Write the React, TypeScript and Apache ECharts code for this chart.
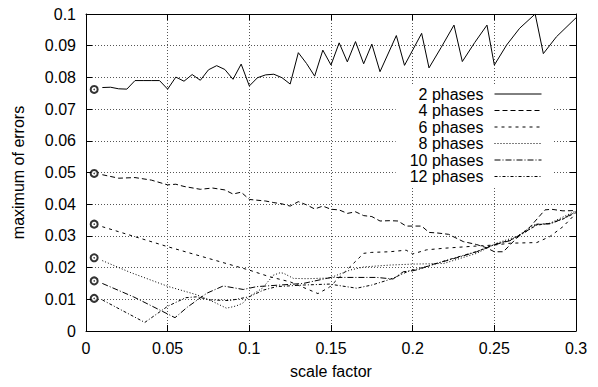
import React, { useEffect, useRef } from "react";
import * as echarts from "echarts";

const FONT = '"Liberation Sans", Arial, Helvetica, sans-serif';

const seriesNames = ["2 phases", "4 phases", "6 phases", "8 phases", "10 phases", "12 phases"];

const phases2 = [
  [0.01, 0.0768], [0.015, 0.0769], [0.02, 0.0764], [0.025, 0.0763], [0.03, 0.079], [0.035, 0.079],
  [0.04, 0.079], [0.045, 0.079], [0.05, 0.0763], [0.055, 0.0801], [0.06, 0.0788], [0.065, 0.0809],
  [0.07, 0.0791], [0.075, 0.0824], [0.08, 0.0837], [0.085, 0.0825], [0.09, 0.0794], [0.095, 0.0842],
  [0.1, 0.0773], [0.105, 0.0799], [0.11, 0.0808], [0.115, 0.081], [0.12, 0.0799], [0.125, 0.0779],
  [0.13, 0.0878], [0.135, 0.0844], [0.14, 0.0804], [0.145, 0.0886], [0.15, 0.0839], [0.155, 0.0909],
  [0.16, 0.0849], [0.165, 0.0913], [0.17, 0.0843], [0.175, 0.0905], [0.18, 0.0818], [0.19, 0.0932],
  [0.195, 0.0838], [0.2055, 0.0939], [0.21, 0.083], [0.2175, 0.0895], [0.2253, 0.0965], [0.2304, 0.085],
  [0.238, 0.091], [0.2455, 0.0965], [0.25, 0.0839], [0.2575, 0.0902], [0.2655, 0.0955], [0.275, 0.1],
  [0.28, 0.0875], [0.288, 0.0928], [0.3, 0.0988],
];

const phases4 = [
  [0.01, 0.0493], [0.02, 0.0482], [0.03, 0.0484], [0.04, 0.0476], [0.05, 0.0461], [0.055, 0.0463],
  [0.06, 0.0456], [0.07, 0.0447], [0.0775, 0.0451], [0.085, 0.0445], [0.09, 0.0432], [0.095, 0.0438],
  [0.1, 0.0415], [0.11, 0.041], [0.115, 0.0405], [0.12, 0.0401], [0.125, 0.0394], [0.13, 0.0408],
  [0.135, 0.0398], [0.14, 0.0385], [0.145, 0.0394], [0.15, 0.0384], [0.155, 0.0382], [0.16, 0.0371],
  [0.165, 0.0376], [0.17, 0.0364], [0.175, 0.0361], [0.18, 0.0347], [0.186, 0.0348], [0.191, 0.0347],
  [0.196, 0.0331], [0.2055, 0.0331], [0.21, 0.0311], [0.2155, 0.0309], [0.222, 0.0305], [0.231, 0.0282],
  [0.239, 0.0273], [0.245, 0.0263], [0.25, 0.025], [0.2555, 0.025], [0.2635, 0.0292], [0.272, 0.0329],
  [0.281, 0.0382], [0.285, 0.0384], [0.292, 0.0379], [0.3, 0.038],
];

const phases6 = [
  [0.01, 0.0329], [0.05, 0.0266], [0.1, 0.0192], [0.1125, 0.0171], [0.125, 0.0155], [0.137, 0.0129],
  [0.142, 0.0118], [0.149, 0.0138], [0.17, 0.0245], [0.175, 0.0248], [0.186, 0.025], [0.196, 0.0255],
  [0.2, 0.0243], [0.2085, 0.0256], [0.219, 0.0261], [0.239, 0.0268], [0.2495, 0.0271], [0.26, 0.0277],
  [0.276, 0.0279], [0.284, 0.0298], [0.292, 0.0329], [0.3, 0.0371],
];

const phases8 = [
  [0.01, 0.0222], [0.027, 0.0185], [0.05, 0.0141], [0.068, 0.0114], [0.078, 0.0092], [0.086, 0.0072],
  [0.092, 0.0079], [0.096, 0.0088], [0.1, 0.0109], [0.108, 0.0135], [0.1147, 0.0176], [0.119, 0.0184],
  [0.121, 0.0182], [0.127, 0.0166], [0.135, 0.0165], [0.149, 0.0167], [0.1616, 0.0192], [0.17, 0.0202],
  [0.186, 0.0208], [0.2, 0.0211], [0.219, 0.0213], [0.2392, 0.0245], [0.2514, 0.0277], [0.2637, 0.0298],
  [0.2739, 0.0334], [0.284, 0.034], [0.3, 0.0379],
];

const phases10 = [
  [0.01, 0.015], [0.029, 0.0108], [0.0545, 0.0042], [0.062, 0.0075], [0.0739, 0.0119], [0.084, 0.0142],
  [0.0963, 0.0131], [0.1045, 0.014], [0.1188, 0.0145], [0.133, 0.015], [0.15, 0.0169], [0.178, 0.0169],
  [0.188, 0.0164], [0.1943, 0.0187], [0.2, 0.019], [0.2045, 0.0195], [0.2106, 0.0208], [0.2188, 0.0219],
  [0.229, 0.0234], [0.2392, 0.025], [0.2494, 0.0271], [0.2596, 0.0285], [0.2678, 0.0308], [0.276, 0.0337],
  [0.284, 0.0338], [0.2922, 0.0355], [0.3, 0.0376],
];

const phases12 = [
  [0.01, 0.0098], [0.036, 0.0027], [0.05, 0.0078], [0.061, 0.0105], [0.068, 0.0108], [0.076, 0.0098],
  [0.088, 0.0096], [0.1, 0.0108], [0.1086, 0.0129], [0.1167, 0.014], [0.133, 0.0145], [0.149, 0.0148],
  [0.1657, 0.0135], [0.175, 0.0145], [0.185, 0.0161], [0.189, 0.0169], [0.198, 0.019], [0.21, 0.0205],
  [0.22, 0.0222], [0.23, 0.0237], [0.24, 0.0252], [0.25, 0.0273], [0.26, 0.0287], [0.268, 0.031],
  [0.276, 0.0334], [0.285, 0.034], [0.292, 0.0353], [0.3, 0.0374],
];

const startMarkers = [
  [0.005, 0.0762], [0.005, 0.0497], [0.005, 0.0337], [0.005, 0.0231], [0.005, 0.0158], [0.005, 0.0103],
];

const X_MIN = 0;
const X_MAX = 0.3;
const X_STEP = 0.05;
const Y_MIN = 0;
const Y_MAX = 0.1;
const Y_STEP = 0.01;

const seriesData = [phases2, phases4, phases6, phases8, phases10, phases12];
const dashes: any[] = ["solid", [5, 3], [3, 4], [1, 2], [6, 2, 1, 2], [3, 2, 1, 2]];

export default function App() {
  const ref = useRef<HTMLDivElement>(null);
  useEffect(() => {
    if (!ref.current) return;
    const chart = echarts.init(ref.current, undefined, { renderer: "svg" });
    const gridLine = { show: true, lineStyle: { color: "#555", width: 1, type: [1, 2] } };
    const axisLine = { show: true, onZero: false, lineStyle: { color: "#000", width: 1 } };
    const tick = { show: true, inside: true, length: 6, lineStyle: { color: "#000", width: 1 } };
    const label = { color: "#000", fontSize: 16, fontFamily: FONT };
    const lines = seriesNames.map((name, i) => ({
      name,
      type: "line",
      data: seriesData[i],
      showSymbol: false,
      symbol: "none",
      lineStyle: { color: "#000", width: 1, type: dashes[i] },
      itemStyle: { color: "#000" },
      emphasis: { disabled: true },
      silent: true,
      z: 3,
    }));
    chart.setOption({
      animation: false,
      backgroundColor: "#fff",
      textStyle: { fontFamily: FONT },
      grid: { left: 86, right: 22, top: 14, bottom: 56, containLabel: false },
      legend: {
        orient: "vertical",
        align: "right",
        right: 46,
        top: 84,
        padding: [2, 10, 2, 14],
        backgroundColor: "#fff",
        itemWidth: 47,
        itemHeight: 10,
        itemGap: 0.5,
        selectedMode: false,
        itemStyle: { opacity: 0, color: "rgba(0,0,0,0)", borderWidth: 0 },
        textStyle: { color: "#000", fontSize: 16, fontFamily: FONT, padding: [0, 6, 0, 0] },
        data: seriesNames.map((name, i) => ({
          name,
          itemStyle: { opacity: 0, color: "rgba(0,0,0,0)", borderWidth: 0 },
          lineStyle: { color: "#000", width: 1, type: dashes[i], opacity: 1 },
        })),
      },
      xAxis: [
        {
          type: "value",
          min: X_MIN,
          max: X_MAX,
          interval: X_STEP,
          position: "bottom",
          name: "scale factor",
          nameLocation: "middle",
          nameGap: 32,
          nameTextStyle: { color: "#000", fontSize: 16, fontFamily: FONT },
          axisLine,
          axisTick: tick,
          axisLabel: { ...label, margin: 9 },
          splitLine: gridLine,
        },
        {
          type: "value",
          min: X_MIN,
          max: X_MAX,
          interval: X_STEP,
          position: "top",
          axisLine,
          axisTick: tick,
          axisLabel: { show: false },
          splitLine: { show: false },
        },
      ],
      yAxis: [
        {
          type: "value",
          min: Y_MIN,
          max: Y_MAX,
          interval: Y_STEP,
          position: "left",
          name: "maximum of errors",
          nameLocation: "middle",
          nameGap: 60,
          nameTextStyle: { color: "#000", fontSize: 16, fontFamily: FONT },
          axisLine,
          axisTick: tick,
          axisLabel: { ...label, margin: 10 },
          splitLine: gridLine,
        },
        {
          type: "value",
          min: Y_MIN,
          max: Y_MAX,
          interval: Y_STEP,
          position: "right",
          axisLine,
          axisTick: tick,
          axisLabel: { show: false },
          splitLine: { show: false },
        },
      ],
      series: [
        ...lines,
        {
          name: "start",
          type: "scatter",
          data: startMarkers,
          symbol: "emptyCircle",
          symbolSize: 7,
          itemStyle: { color: "#000", borderColor: "#000", borderWidth: 0.8 },
          emphasis: { disabled: true },
          silent: true,
          z: 4,
        },
        {
          name: "startDot",
          type: "scatter",
          data: startMarkers,
          symbol: "circle",
          symbolSize: 1.5,
          itemStyle: { color: "#000" },
          emphasis: { disabled: true },
          silent: true,
          z: 5,
        },
      ],
    });
    return () => chart.dispose();
  }, []);
  return (
    <div
      ref={ref}
      style={{ position: "fixed", left: 0, top: 0, width: 598, height: 387, background: "#fff" }}
    />
  );
}
